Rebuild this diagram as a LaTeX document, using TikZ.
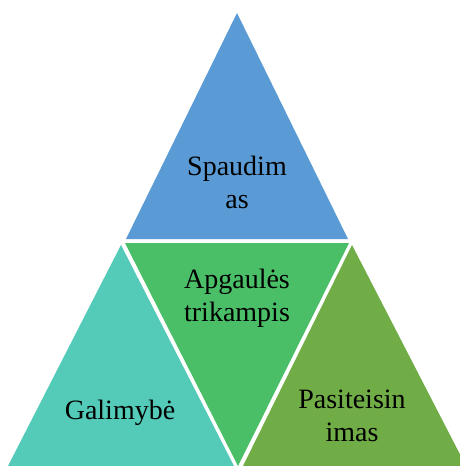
\documentclass[tikz,border=0pt]{standalone}
\usepackage{fontspec}
\setmainfont{Liberation Serif}
\definecolor{topblue}{HTML}{5B9BD5}
\definecolor{leftteal}{HTML}{54CBB9}
\definecolor{midgreen}{HTML}{4ABF68}
\definecolor{rightgreen}{HTML}{70AD47}
\begin{document}
\begin{tikzpicture}[x=1pt,y=-1pt,
	label/.style={align=center,font=\fontsize{28}{33}\selectfont,inner sep=0pt}]
	% Outer frame (460 x 466)
	\clip (0,0) rectangle (460,466);
	\fill[white] (0,0) rectangle (460,466);
	
	% Corners of the four triangles
	\coordinate (T1) at (237, 13);
	\coordinate (T2) at (126,239);
	\coordinate (T3) at (348,239);
	
	\coordinate (M1) at (125,243);
	\coordinate (M2) at (349,243);
	\coordinate (M3) at (238,466);
	
	\coordinate (L1) at (121,245);
	\coordinate (L2) at (  8,466);
	\coordinate (L3) at (234,466);
	
	\coordinate (R1) at (352,245);
	\coordinate (R2) at (243,466);
	\coordinate (R3) at (466,466);
	
	\fill[topblue] (T1) -- (T2) -- (T3) -- cycle;
	\fill[midgreen] (M1) -- (M2) -- (M3) -- cycle;
	\fill[leftteal] (L1) -- (L2) -- (L3) -- cycle;
	\fill[rightgreen] (R1) -- (R2) -- (R3) -- cycle;
	
	\node[label] (spaudimas) at (237,182) {Spaudim\\as};
	\node[label] (apgaules) at (237,298) {Apgaulės\\trikampis};
	\node[label] (galimybe) at (120,413) {Galimybė};
	\node[label] (pasiteisinimas) at (352,416) {Pasiteisin\\imas};
\end{tikzpicture}
\end{document}
